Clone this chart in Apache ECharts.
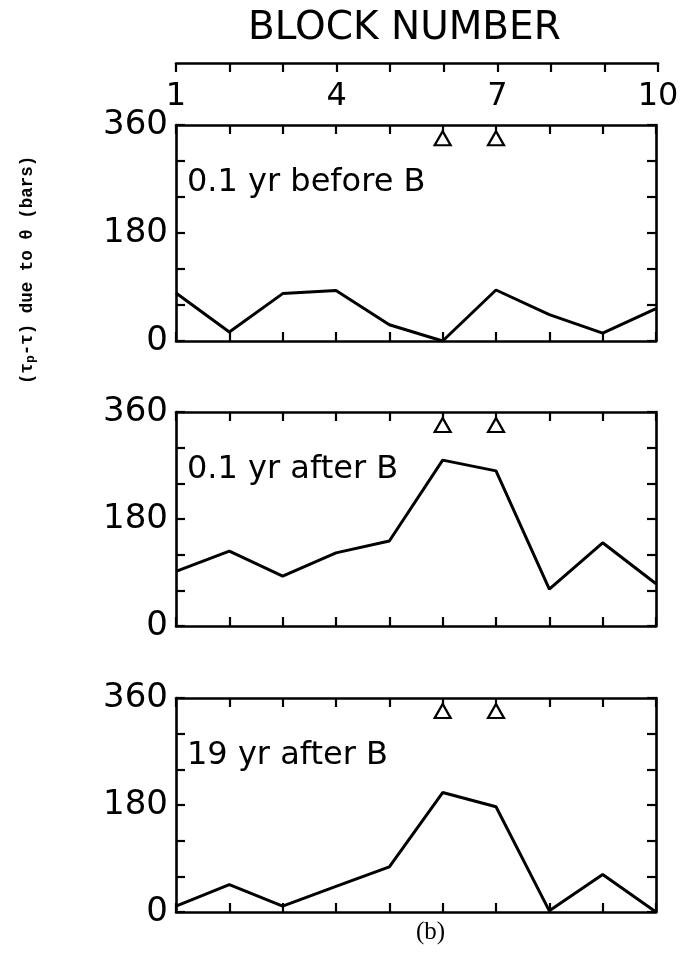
<!DOCTYPE html>
<html>
<head>
<meta charset="utf-8">
<script src="https://cdn.jsdelivr.net/npm/echarts@6/dist/echarts.min.js"></script>
<style>
  html, body { margin: 0; background: #fff; }
  #chart { width: 690px; height: 953px; }
</style>
</head>
<body>
<div id="chart"></div>
<script>
// block numbers along x
const blocks = [1, 2, 3, 4, 5, 6, 7, 8, 9, 10];
// (tau_p - tau) due to theta, bars
const before01 = [80, 15, 79, 84, 27, 0, 85, 44, 13, 54];
const after01 = [92, 126, 84, 123, 143, 279, 261, 62, 140, 71];
const after19 = [10, 46, 10, 43, 76, 201, 177, 2, 63, 0];
// triangle markers
const markerBlocks = [6, 7];
const markerLevel = 338;
// tick labels
const topLabels = [1, 4, 7, 10];
const yLabels = [0, 180, 360];
const panelNames = ['0.1 yr before B', '0.1 yr after B', '19 yr after B'];

const panelData = [before01, after01, after19];
const tops = [125, 412, 698];
const heights = [216, 214, 214];
const numFont = 'DejaVu Sans';

let chart = echarts.init(document.getElementById('chart'));

let grids = [], xAxes = [], yAxes = [], series = [], graphic = [];
const axLine = { onZero: false, lineStyle: { color: '#000', width: 2.6 } };
const axTick = { inside: true, length: 9, lineStyle: { color: '#000', width: 2.2 } };

panelData.forEach((vals, i) => {
  grids.push({ left: 176, width: 480, top: tops[i], height: heights[i] });
  ['bottom', 'top'].forEach(pos => {
    xAxes.push({
      gridIndex: i, type: 'value', position: pos, min: 1, max: 10, interval: 1,
      axisLine: axLine, axisTick: axTick, axisLabel: { show: false },
      splitLine: { show: false }
    });
  });
  ['left', 'right'].forEach(pos => {
    yAxes.push({
      gridIndex: i, type: 'value', position: pos, min: 0, max: 360, interval: 60,
      axisLine: axLine, axisTick: axTick, splitLine: { show: false },
      axisLabel: {
        show: pos === 'left', margin: 8, fontSize: 34, fontFamily: numFont, color: '#000',
        formatter: v => yLabels.indexOf(v) >= 0 ? String(v) : ''
      }
    });
  });
  series.push({
    type: 'line', xAxisIndex: 2 * i, yAxisIndex: 2 * i,
    data: blocks.map((b, k) => [b, vals[k]]),
    showSymbol: false, lineStyle: { color: '#000', width: 3 }
  });
  series.push({
    type: 'scatter', xAxisIndex: 2 * i, yAxisIndex: 2 * i,
    data: markerBlocks.map(b => [b, markerLevel]),
    symbol: 'triangle', symbolSize: [16, 14],
    itemStyle: { color: '#fff', borderColor: '#000', borderWidth: 2.2, opacity: 1 }
  });
  graphic.push({
    type: 'text', left: 187, top: tops[i] + 42,
    style: { text: panelNames[i], fontSize: 32, fontFamily: numFont, fill: '#000' }
  });
});

// top block-number axis
grids.push({ left: 176, width: 482, top: 63, height: 40 });
xAxes.push({
  gridIndex: 3, type: 'value', position: 'top', min: 1, max: 10, interval: 1,
  axisLine: axLine, axisTick: axTick, splitLine: { show: false },
  axisLabel: {
    inside: true, margin: 18, fontSize: 32, fontFamily: numFont, color: '#000',
    formatter: v => topLabels.indexOf(v) >= 0 ? String(v) : ''
  }
});
yAxes.push({ gridIndex: 3, type: 'value', show: false });

graphic.push({
  type: 'text', left: 248, top: 9,
  style: { text: 'BLOCK NUMBER', fontSize: 39, fontFamily: numFont, fill: '#000' }
});
graphic.push({
  type: 'text', x: 19, y: 384, rotation: Math.PI / 2,
  style: {
    text: '(τ{sub|p}-τ) due to θ (bars)',
    fontSize: 17.5, fontWeight: 'bold', fontFamily: 'Liberation Mono', fill: '#000',
    rich: { sub: { fontSize: 13, fontWeight: 'bold', fontFamily: 'Liberation Mono', padding: [0, 0, -6, 0] } }
  }
});
graphic.push({
  type: 'text', left: 416, top: 920,
  style: { text: '(b)', fontSize: 25, fontFamily: 'Liberation Serif', fill: '#000' }
});

let option = {
  backgroundColor: '#fff',
  animation: false,
  grid: grids,
  xAxis: xAxes,
  yAxis: yAxes,
  series: series,
  graphic: graphic
};
chart.setOption(option);
</script>
</body>
</html>
